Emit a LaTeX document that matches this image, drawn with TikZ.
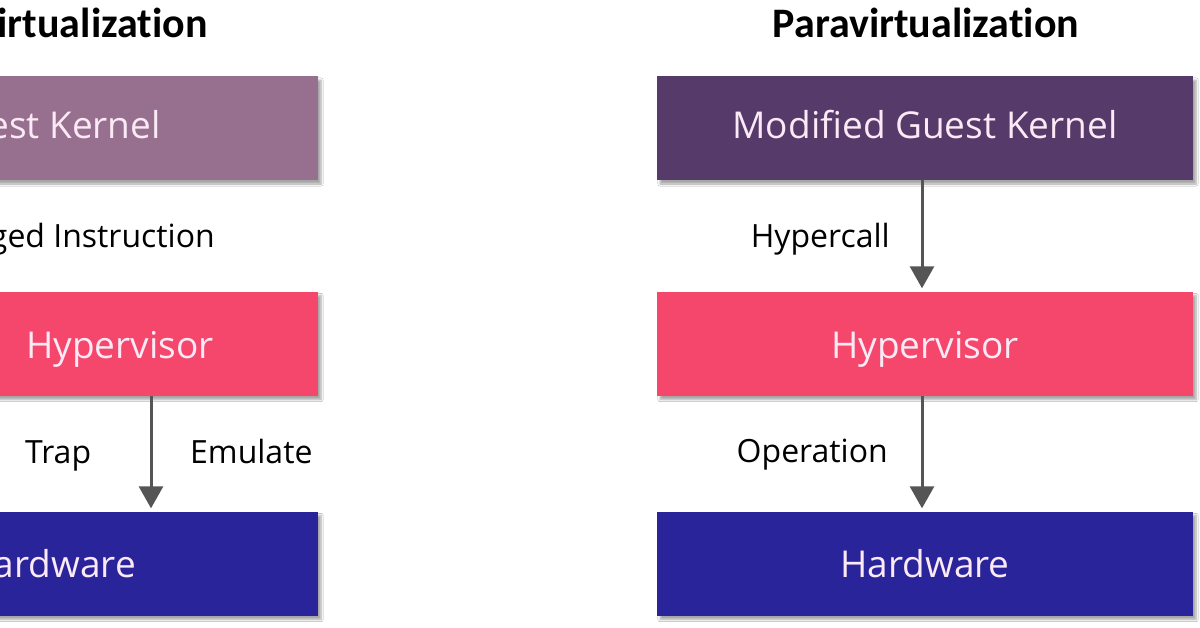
\documentclass[tikz,border=0pt]{standalone}
\usepackage{fontspec}
\setmainfont{Open Sans}
\newfontfamily\titlefont[Ligatures={NoCommon}]{Carlito}
\usetikzlibrary{arrows.meta,shadows.blur}
\definecolor{kernelL}{HTML}{98708F}
\definecolor{kernelR}{HTML}{553A6A}
\definecolor{hyp}{HTML}{F5476C}
\definecolor{hw}{HTML}{2A249A}
\definecolor{arrgray}{HTML}{555555}
\definecolor{boxtext}{HTML}{FBEAF6}
\begin{document}
\begin{tikzpicture}[x=1pt,y=-1pt,
  layerbox/.style={draw=none, minimum width=536pt, minimum height=104pt, inner sep=0pt,
    blur shadow={shadow xshift=3pt, shadow yshift=-4pt, shadow blur steps=6, shadow opacity=35}},
  boxlbl/.style={text=boxtext, font=\fontsize{37}{42}\selectfont, inner sep=0pt},
  lbl/.style={font=\fontsize{32}{36}\selectfont, text=black, inner sep=0pt},
  ttl/.style={font=\titlefont\bfseries\fontsize{42}{46}\selectfont, text=black, inner sep=0pt},
  arr/.style={draw=arrgray, line width=3pt, -{Triangle[width=24pt,length=22pt]}, shorten >=3pt}]
\clip (0,0) rectangle (1200,627);
\fill[white] (0,0) rectangle (1200,627);
% left column (full virtualization)
\node[ttl, anchor=base east] (tL) at (208,37) {Full Virtualization};
\node[layerbox, fill=kernelL] (kL) at (50,128) {};
\node[boxlbl, anchor=base east] (kLt) at (161,138) {Guest Kernel};
\node[lbl, anchor=base east] (piL) at (215,247) {Privileged Instruction};
\node[layerbox, fill=hyp] (hL) at (50,343.5) {};
\node[boxlbl, anchor=base] (hLt) at (120,358) {Hypervisor};
\node[layerbox, fill=hw] (wL) at (50,563.5) {};
\node[boxlbl, anchor=base east] (wLt) at (136,577) {Hardware};
\coordinate (aL) at (151,0);
\draw[arr] (hL.south -| aL) -- (wL.north -| aL);
\node[lbl, anchor=base west] (trap) at (25,463) {Trap};
\node[lbl, anchor=base west] (emu) at (190,463) {Emulate};
% right column (paravirtualization)
\node[ttl, anchor=base] (tR) at (926,37) {Paravirtualization};
\node[layerbox, fill=kernelR] (kR) at (925,128) {};
\node[boxlbl, anchor=base] (kRt) at (925,138) {Modified Guest Kernel};
\node[layerbox, fill=hyp] (hR) at (925,343.5) {};
\node[boxlbl, anchor=base] (hRt) at (925,358) {Hypervisor};
\node[layerbox, fill=hw] (wR) at (925,563.5) {};
\node[boxlbl, anchor=base] (wRt) at (925,577) {Hardware};
\coordinate (aR) at (922,0);
\draw[arr] (kR.south -| aR) -- (hR.north -| aR);
\draw[arr] (hR.south -| aR) -- (wR.north -| aR);
\node[lbl, anchor=base east] (hc) at (890,247) {Hypercall};
\node[lbl, anchor=base east] (op) at (888,462) {Operation};
\end{tikzpicture}
\end{document}
